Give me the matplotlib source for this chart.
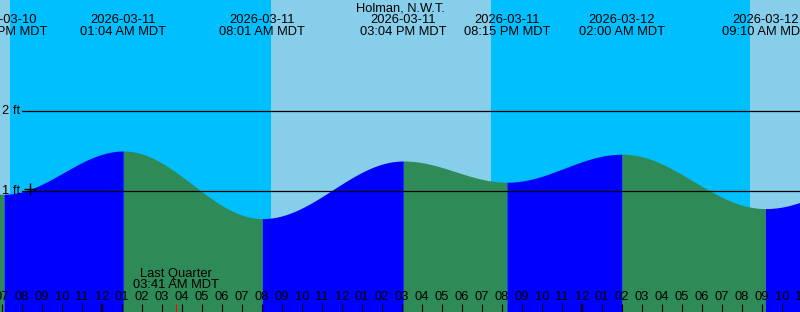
import matplotlib
matplotlib.use("Agg")
import matplotlib.pyplot as plt
import matplotlib.transforms as mtransforms
import numpy as np
from datetime import datetime

plt.rcParams['font.family'] = ['Liberation Sans', 'DejaVu Sans']

# ---------------- data ----------------
station = "Holman, N.W.T."
ref_day = "2026-03-11 00:00"

# tide extremes (local MDT) and heights in ft
extreme_times = ["2026-03-10 13:00", "2026-03-10 19:06", "2026-03-11 01:04",
                 "2026-03-11 08:01", "2026-03-11 15:04", "2026-03-11 20:15",
                 "2026-03-12 02:00", "2026-03-12 09:10", "2026-03-12 16:00"]
extreme_heights = [1.40, 0.96, 1.50, 0.655, 1.375, 1.11, 1.46, 0.78, 1.30]
extreme_labels_date = ["2026-03-10", "2026-03-10", "2026-03-11", "2026-03-11",
                       "2026-03-11", "2026-03-11", "2026-03-12", "2026-03-12", "2026-03-12"]
extreme_labels_time = ["01:00 PM MDT", "07:06 PM MDT", "01:04 AM MDT", "08:01 AM MDT",
                       "03:04 PM MDT", "08:15 PM MDT", "02:00 AM MDT", "09:10 AM MDT",
                       "04:00 PM MDT"]

# sunset / sunrise (night spans)
night_starts = ["2026-03-10 19:24", "2026-03-11 19:27"]
night_ends = ["2026-03-11 08:27", "2026-03-12 08:24"]

# moon phase
moon_phase = "Last Quarter"
moon_time = "2026-03-11 03:41"
moon_label = "03:41 AM MDT"

# "now" marker
now_time = "2026-03-10 20:24"

# level lines
level_values = [1, 2]
level_labels = ["1 ft", "2 ft"]

# ---------------- helpers ----------------
def hrs(s):
    d = datetime.strptime(s, "%Y-%m-%d %H:%M") - datetime.strptime(ref_day, "%Y-%m-%d %H:%M")
    return d.total_seconds() / 3600.0

ext_t = np.array([hrs(s) for s in extreme_times])
ext_h = np.array(extreme_heights)

W, H = 800, 312
px_per_hr = 20.0
x0_px = 102.0          # midnight Mar 11
zero_px = 271.0        # 0 ft
px_per_ft = 80.0

xmin = -x0_px / px_per_hr
xmax = (W - x0_px) / px_per_hr
ymax = zero_px / px_per_ft
ymin = -(H - zero_px) / px_per_ft

fig = plt.figure(figsize=(8, 3.12), dpi=100)
ax = fig.add_axes([0, 0, 1, 1])
ax.set_xlim(xmin, xmax)
ax.set_ylim(ymin, ymax)
ax.axis('off')

trans = mtransforms.blended_transform_factory(ax.transData, ax.transAxes)
def ypx(y):
    return 1 - y / H

DAY = '#87CEEB'
NIGHT = '#00BFFF'
RISE = '#0000FF'
FALL = '#2E8B57'

ax.axvspan(xmin, xmax, color=DAY, lw=0, zorder=0)
for s, e in zip(night_starts, night_ends):
    ax.axvspan(hrs(s), hrs(e), color=NIGHT, lw=0, zorder=1)

def tide(t):
    t = np.asarray(t, dtype=float)
    out = np.empty_like(t)
    for i in range(len(ext_t) - 1):
        m = (t >= ext_t[i]) & (t <= ext_t[i + 1])
        f = (t[m] - ext_t[i]) / (ext_t[i + 1] - ext_t[i])
        out[m] = ext_h[i] + (ext_h[i + 1] - ext_h[i]) * (1 - np.cos(np.pi * f)) / 2
    return out

for i in range(len(ext_t) - 1):
    tt = np.linspace(ext_t[i], ext_t[i + 1], 200)
    col = RISE if ext_h[i + 1] > ext_h[i] else FALL
    ax.fill_between(tt, ymin, tide(tt), color=col, lw=0, zorder=2)

fs = 9.3

# level lines
for v, lab in zip(level_values, level_labels):
    ax.axhline(v, xmin=22 / W, xmax=1, color='black', lw=0.9, zorder=4)
    ax.text(2 / px_per_hr + xmin, v, lab, ha='left', va='center', fontsize=fs, zorder=5)

# hour ticks & labels
for h in range(int(np.floor(xmin)), int(np.ceil(xmax)) + 1):
    hh = h % 24
    lab = "%02d" % (12 if hh % 12 == 0 else hh % 12)
    ax.text(h, ypx(296.5), lab, transform=trans, ha='center', va='center', fontsize=fs, zorder=5)
    lw = 1.6 if hh == 0 else 0.8
    ax.plot([h, h], [ypx(303.5), ypx(312)], transform=trans, color='black', lw=lw,
            solid_capstyle='butt', zorder=6, clip_on=False)

# moon phase
mt = hrs(moon_time)
ax.plot([mt, mt], [ypx(303.5), ypx(312)], transform=trans, color='red', lw=0.8,
        solid_capstyle='butt', zorder=6)
ax.text(mt, ypx(273.5), moon_phase, transform=trans, ha='center', va='center', fontsize=fs, zorder=5)
ax.text(mt, ypx(285.5), moon_label, transform=trans, ha='center', va='center', fontsize=fs, zorder=5)

# extreme labels
for t, d, tl in zip(ext_t, extreme_labels_date, extreme_labels_time):
    ax.text(t, ypx(20), d, transform=trans, ha='center', va='center', fontsize=fs, zorder=5)
    ax.text(t, ypx(32), tl, transform=trans, ha='center', va='center', fontsize=fs, zorder=5)

# title
ax.text(0.5, ypx(8.5), station, transform=ax.transAxes, ha='center', va='center', fontsize=fs, zorder=5)

# now marker
nt = hrs(now_time)
ax.plot([nt], tide([nt]), marker='+', color='black', ms=9, mew=1.0, zorder=6)

fig.savefig("out.png", dpi=100)
